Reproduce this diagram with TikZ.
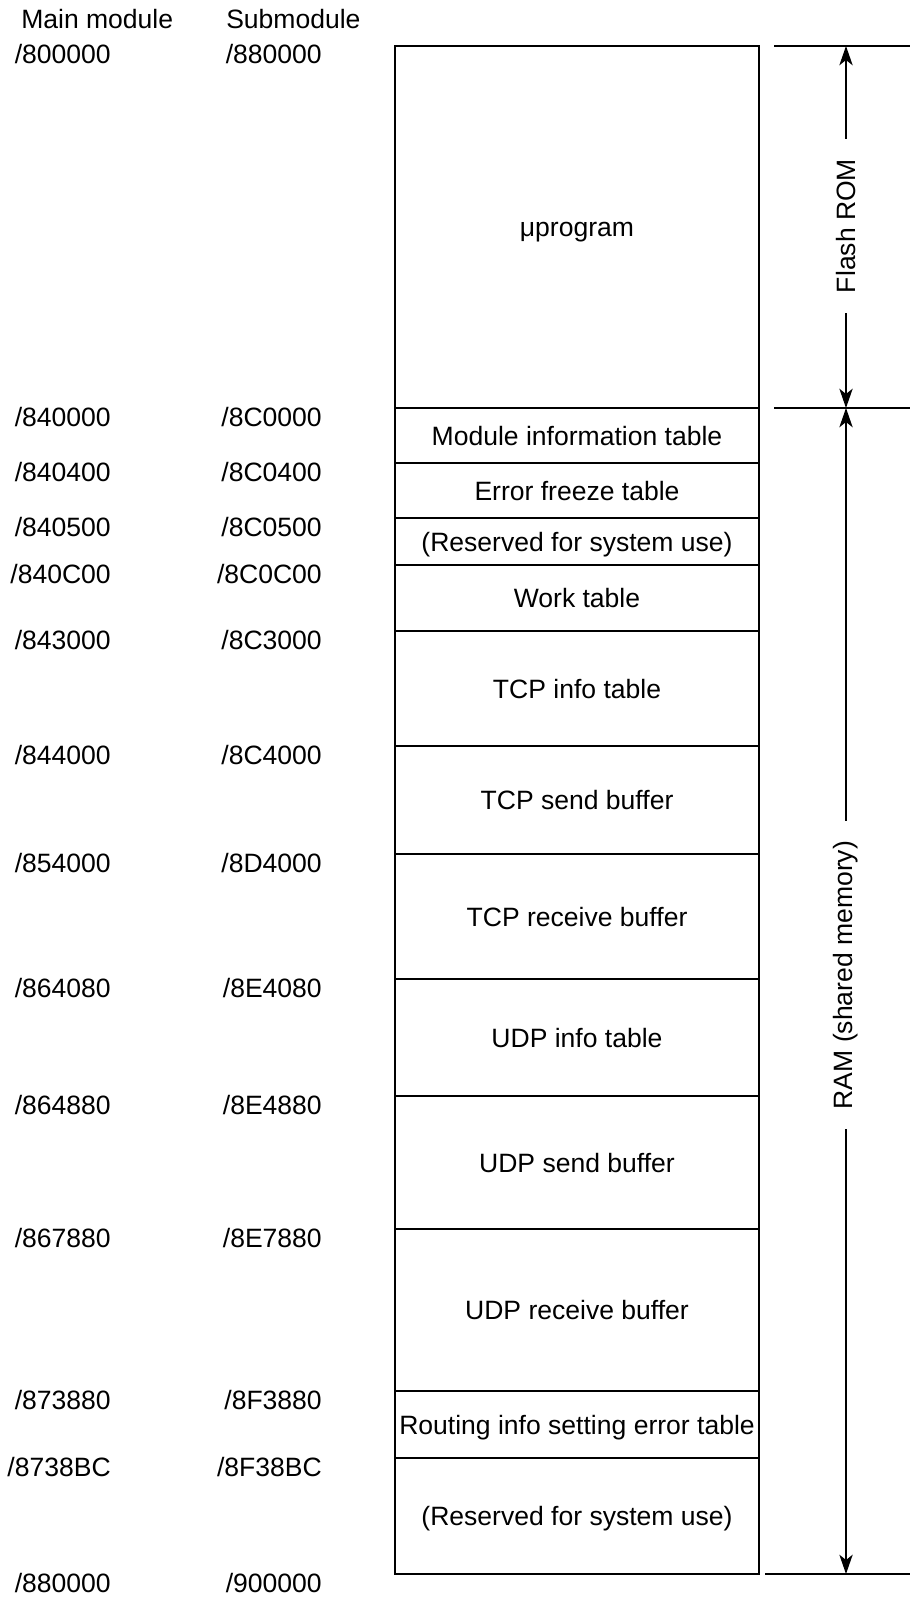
\documentclass[tikz,border=0pt]{standalone}
\usepackage{fontspec}
\setmainfont{Liberation Sans}
\usetikzlibrary{arrows.meta,fit}
\begin{document}
\begin{tikzpicture}[x=0.75pt,y=-0.75pt,
  every node/.style={font=\fontsize{19.9}{23}\selectfont, text=black},
  rowbox/.style={draw=black, line width=1.5pt, inner sep=0pt},
  rowtext/.style={inner sep=0pt, anchor=base},
  addr/.style={inner sep=0pt, anchor=base east},
  head/.style={inner sep=0pt, anchor=base west},
  dimlbl/.style={rotate=90, inner xsep=15pt, inner ysep=0pt},
  dimline/.style={draw=black, line width=1.2pt},
  tipa/.style={-{Stealth[length=14.5pt,width=10pt,inset=4pt]}},
  hline/.style={draw=black, line width=1.1pt}]
\useasboundingbox (0,0) rectangle (910,1598);

% headers
\node[head] (hmain) at (21,29) {Main module};
\node[head] (hsub) at (226,29) {Submodule};

% memory rows
\foreach \ya/\yb/\t/\n in {
  46/408/μprogram/1,
  408/463/Module information table/2,
  463/518/Error freeze table/3,
  518/565/(Reserved for system use)/4,
  565/631/Work table/5,
  631/746/TCP info table/6,
  746/854/TCP send buffer/7,
  854/979/TCP receive buffer/8,
  979/1096/UDP info table/9,
  1096/1229/UDP send buffer/10,
  1229/1391/UDP receive buffer/11,
  1391/1458/Routing info setting error table/12,
  1458/1574/(Reserved for system use)/13}{
  \node[rowbox, fit={(395,\ya) (759,\yb)}] (r\n) {};
  \node[rowtext] (t\n) at (577,{(\ya+\yb)/2+9.5}) {\t};
}

% address labels
\foreach \y/\ma/\sa/\n in {
  46/800000/880000/1,
  408/840000/8C0000/2,
  463/840400/8C0400/3,
  518/840500/8C0500/4,
  565/840C00/8C0C00/5,
  631/843000/8C3000/6,
  746/844000/8C4000/7,
  854/854000/8D4000/8,
  979/864080/8E4080/9,
  1096/864880/8E4880/10,
  1229/867880/8E7880/11,
  1391/873880/8F3880/12,
  1458/8738BC/8F38BC/13,
  1574/880000/900000/14}{
  \node[addr] (m\n) at (111,{\y+18}) {/\ma};
  \node[addr] (s\n) at (322,{\y+18}) {/\sa};
}

% dimension lines on the right
\coordinate (ha1) at (774,46);   \coordinate (hb1) at (910,46);
\coordinate (ha2) at (774,408);  \coordinate (hb2) at (910,408);
\coordinate (ha3) at (765,1574); \coordinate (hb3) at (910,1574);
\draw[hline] (ha1) -- (hb1);
\draw[hline] (ha2) -- (hb2);
\draw[hline] (ha3) -- (hb3);

\coordinate (ft) at (846,46);
\coordinate (fb) at (846,408);
\coordinate (rb) at (846,1574);

\node[dimlbl] (flash) at (846,226) {Flash ROM};
\draw[dimline,tipa] (flash.east) -- (ft);
\draw[dimline,tipa] (flash.west) -- (fb);

\node[dimlbl] (ram) at (846,975) {RAM (shared memory)};
\draw[dimline,tipa] (ram.east) -- (fb);
\draw[dimline,tipa] (ram.west) -- (rb);
\end{tikzpicture}
\end{document}
